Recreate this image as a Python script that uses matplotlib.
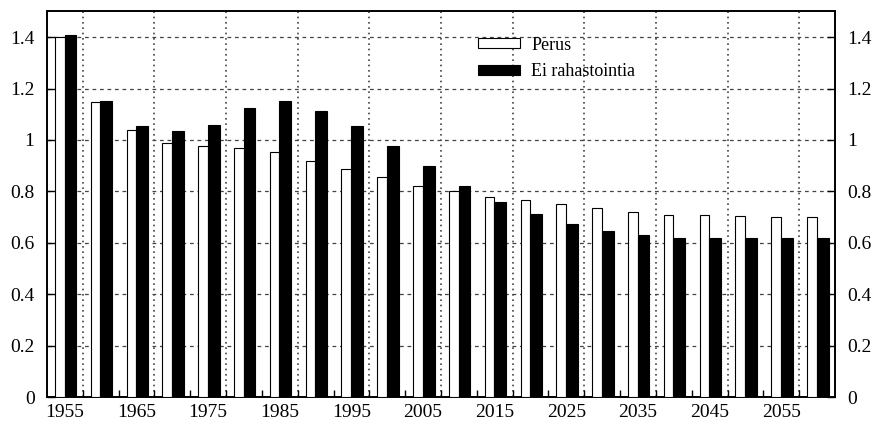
import numpy as np
import matplotlib
matplotlib.use("Agg")
import matplotlib.pyplot as plt
from matplotlib.patches import Patch
from matplotlib.ticker import FuncFormatter, FixedLocator

years = list(range(1955, 2061, 5))
perus = [1.40, 1.148, 1.04, 0.99, 0.975, 0.97, 0.953, 0.918, 0.887, 0.855, 0.82,
         0.80, 0.78, 0.766, 0.75, 0.734, 0.72, 0.71, 0.707, 0.703, 0.70, 0.70]
ei_rahastointia = [1.41, 1.15, 1.055, 1.035, 1.06, 1.125, 1.15, 1.113, 1.055, 0.977, 0.898,
                   0.82, 0.758, 0.711, 0.674, 0.645, 0.63, 0.617, 0.617, 0.617, 0.617, 0.617]
series_labels = ["Perus", "Ei rahastointia"]
yticks = [0, 0.2, 0.4, 0.6, 0.8, 1.0, 1.2, 1.4]

plt.rcParams['font.family'] = ['Liberation Serif', 'DejaVu Serif']

fig = plt.figure(figsize=(8.72, 4.25), dpi=100)
ax = fig.add_axes([47/872, (425-397)/425, (835-47)/872, (397-11.5)/425])

x = np.arange(len(years))
w_white = 0.27
w_black = 0.33
ax.bar(x - 0.01 - w_white/2, perus, width=w_white, color='white', edgecolor='black',
       linewidth=0.8, zorder=3)
ax.bar(x - 0.01 + w_black/2, ei_rahastointia, width=w_black, color='black', edgecolor='black',
       linewidth=0.8, zorder=3)

ax.set_xlim(-0.5, len(years) - 0.5)
ax.set_ylim(0, 1.5)

# horizontal dashed grid
for v in yticks[1:]:
    ax.axhline(v, color='#444444', linestyle=(0, (3, 3)), linewidth=0.9, zorder=1)
# vertical dotted grid at every other category boundary
for b in np.arange(0.5, len(years) - 0.5, 2):
    ax.axvline(b, color='#444444', linestyle=(0, (1, 2.2)), linewidth=1.2, zorder=1)

# x ticks: labels every other category, minor ticks at boundaries
ax.xaxis.set_major_locator(FixedLocator(x[::2]))
ax.set_xticklabels([str(y) for y in years[::2]])
ax.xaxis.set_minor_locator(FixedLocator(np.arange(0.5, len(years) - 0.5, 1)))
ax.tick_params(axis='x', which='major', length=0, pad=5, labelsize=14)
ax.tick_params(axis='x', which='minor', direction='in', length=5, width=1.0)

ax.set_yticks(yticks)
ax.yaxis.set_major_formatter(FuncFormatter(lambda v, p: f"{v:g}"))
ax.tick_params(axis='y', which='major', direction='in', length=6, width=1.0,
               left=True, right=True, labelleft=True, labelright=True,
               pad=9, labelsize=14)

for s in ax.spines.values():
    s.set_linewidth(1.4)

handles = [Patch(facecolor='white', edgecolor='black', linewidth=0.8),
           Patch(facecolor='black', edgecolor='black', linewidth=0.8)]
ax.legend(handles, series_labels, loc='upper left', bbox_to_anchor=(0.547, 0.935),
          frameon=False, fontsize=13, handlelength=2.3, handleheight=0.5,
          handletextpad=0.65, labelspacing=0.55, borderpad=0, borderaxespad=0)

fig.savefig("out.png", dpi=100)
